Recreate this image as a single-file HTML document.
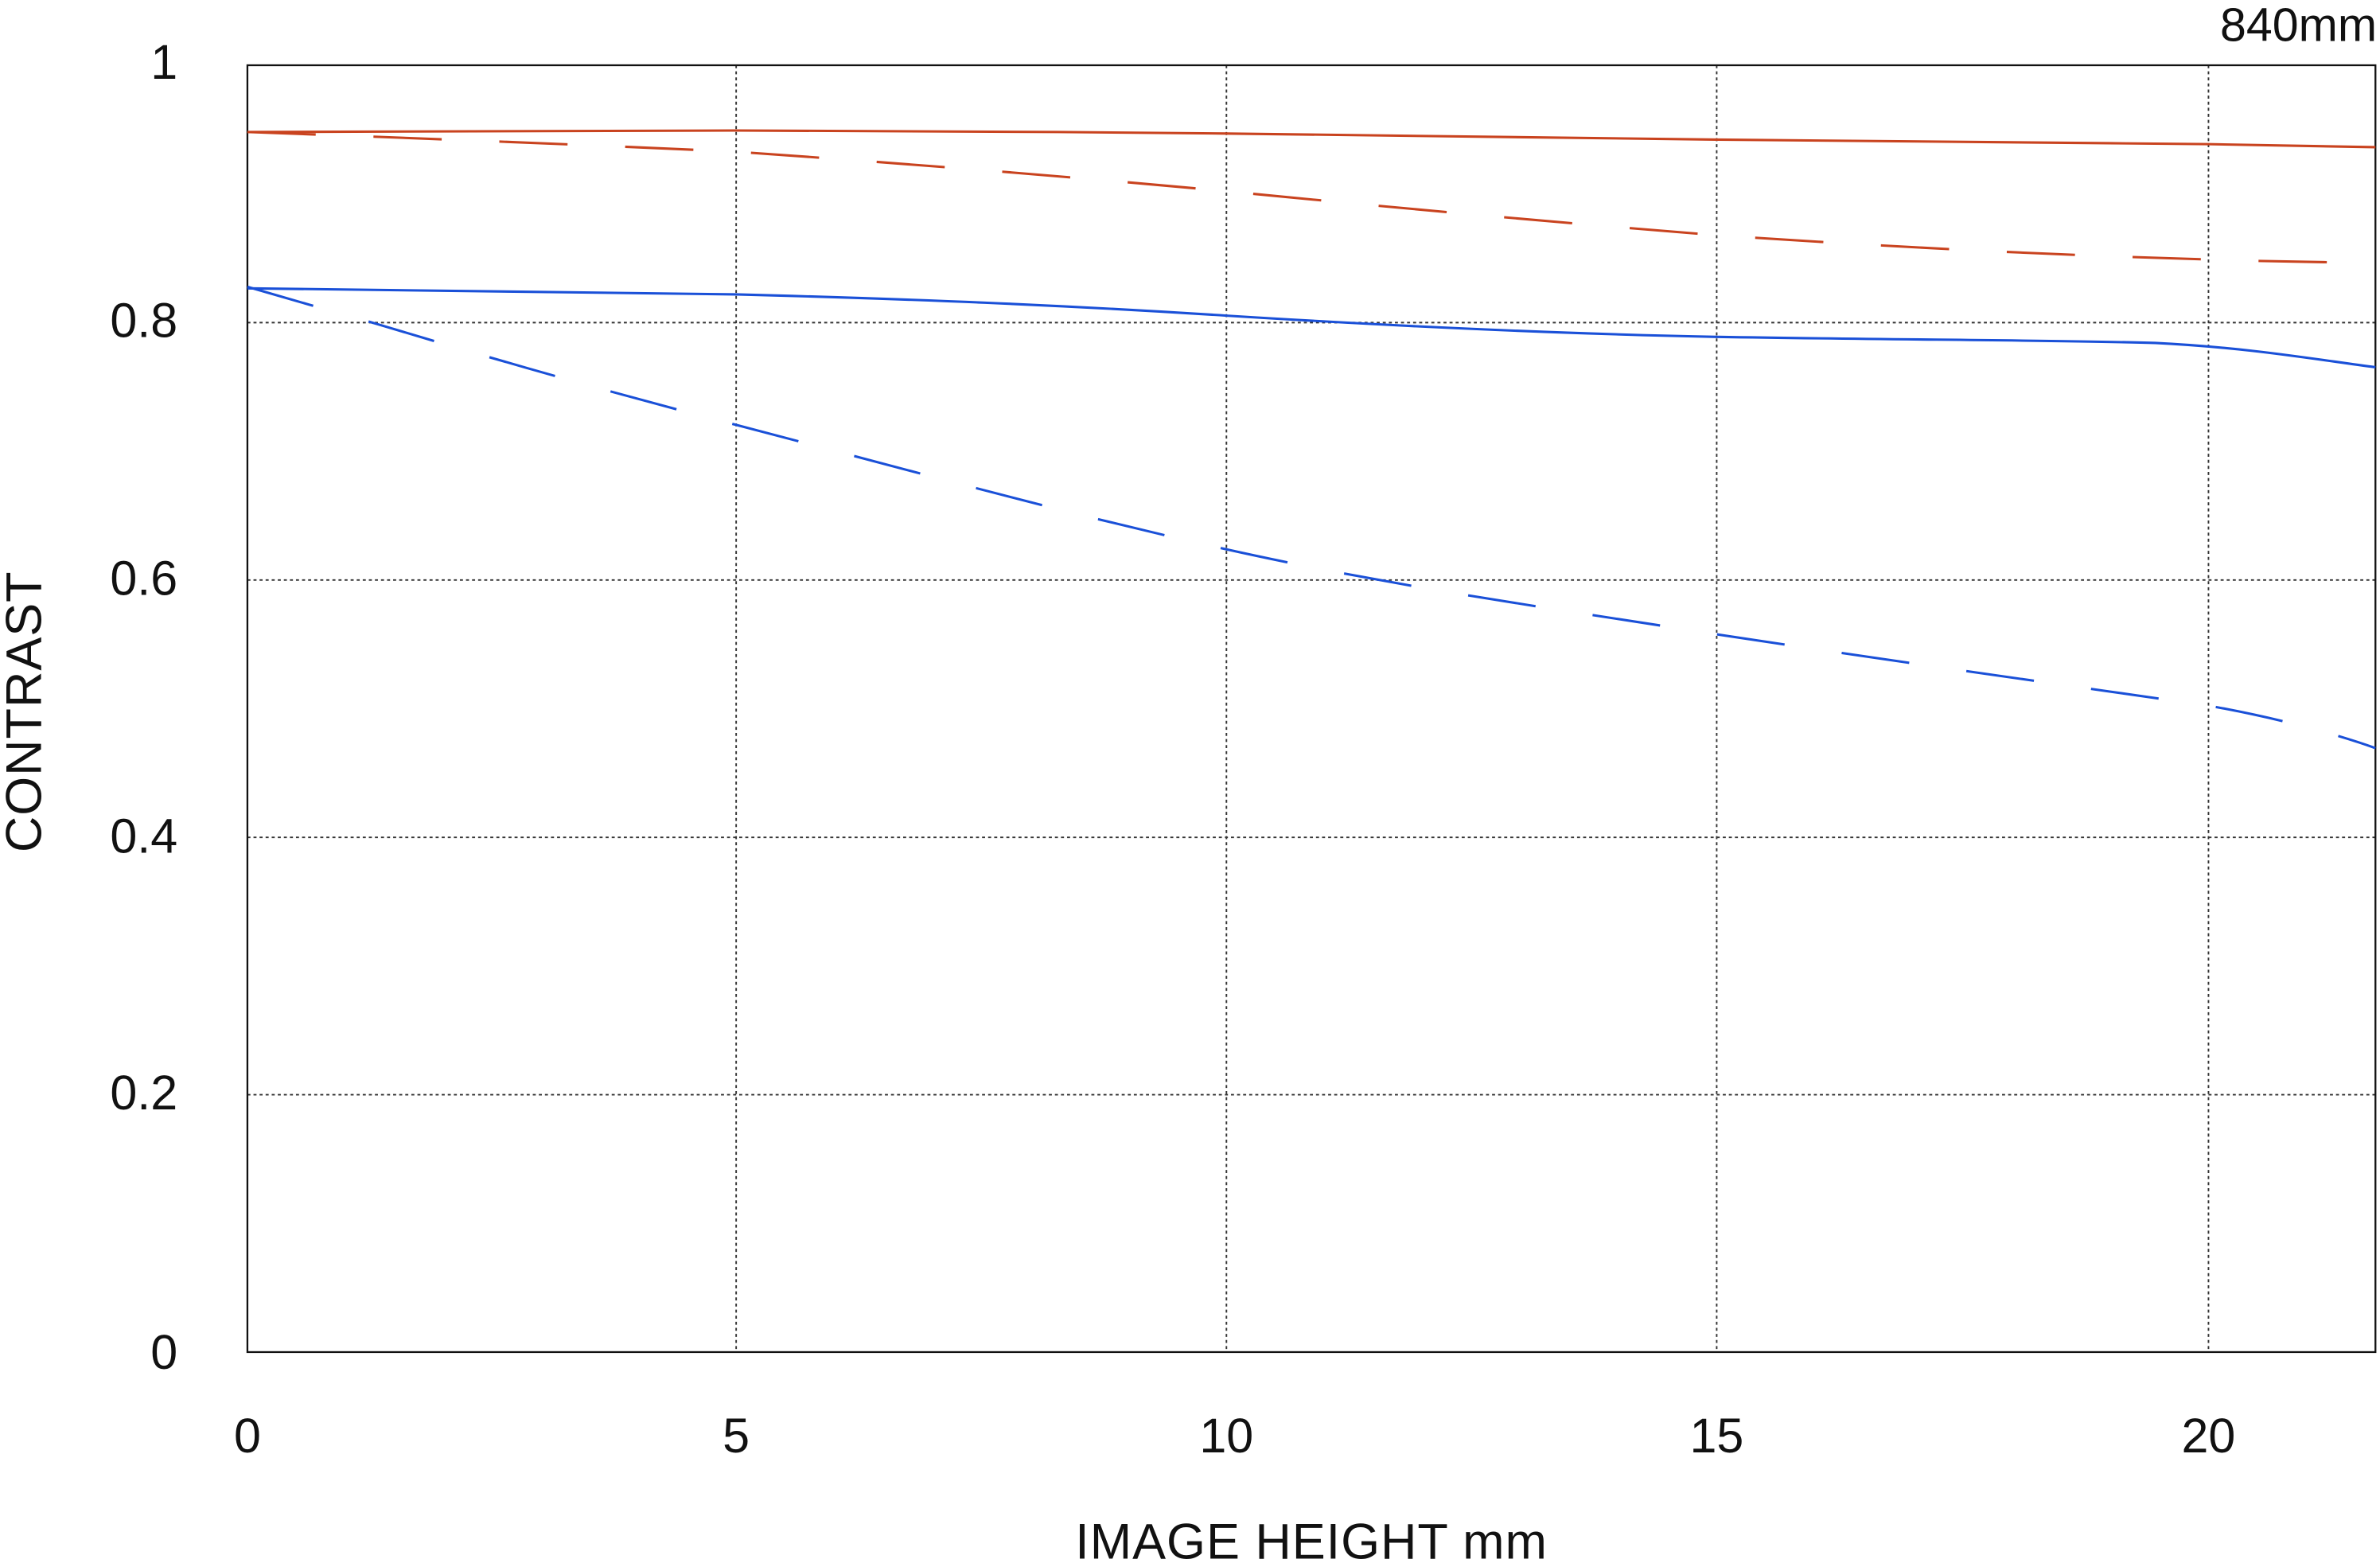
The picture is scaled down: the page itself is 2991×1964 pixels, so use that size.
<!DOCTYPE html>
<html><head><meta charset="utf-8"><style>
html,body{margin:0;padding:0;background:#fff;}
svg{display:block;}
text{font-family:"Liberation Sans",sans-serif;fill:#111;}
</style></head><body>
<svg width="2991" height="1964" viewBox="0 0 1568 1030" preserveAspectRatio="none" xmlns="http://www.w3.org/2000/svg">
<rect x="0" y="0" width="1568" height="1030" fill="#fff"/>
<g stroke="#333" stroke-width="1" stroke-dasharray="2,2" fill="none">
<line x1="485" y1="43" x2="485" y2="891"/>
<line x1="808" y1="43" x2="808" y2="891"/>
<line x1="1131" y1="43" x2="1131" y2="891"/>
<line x1="1455" y1="43" x2="1455" y2="891"/>
<line x1="163" y1="212.6" x2="1565" y2="212.6"/>
<line x1="163" y1="382.2" x2="1565" y2="382.2"/>
<line x1="163" y1="551.8" x2="1565" y2="551.8"/>
<line x1="163" y1="721.4" x2="1565" y2="721.4"/>
</g>
<rect x="163" y="43" width="1402" height="848" fill="none" stroke="#111" stroke-width="1.2"/>
<g fill="none" stroke-width="1.6">
<path d="M163,87 C300,86.5 400,86 485,86 C600,86 700,87 808,88 C920,89 1030,91 1131,92 C1250,93 1350,94 1455,95 C1500,96 1540,96.5 1565,97" stroke="#c9431f"/>
<path d="M163,87 C300,92 400,96 485,100 C600,108 700,116 808,126 C920,137 1030,147 1131,155 C1250,163 1350,168 1455,171 C1500,172.5 1540,173 1565,173" stroke="#c9431f" stroke-dasharray="45,38"/>
<path d="M163,190 C300,191 400,192 485,194 C600,197 700,201 808,208 C920,215 1030,220 1131,222 C1250,224 1350,224 1420,226 C1480,229 1520,236 1565,242" stroke="#1a50d8"/>
<path d="M163,189 C200,200 230,208 250,214 C330,238 400,258 485,280 C600,310 700,338 808,362 C920,387 1030,402 1131,418 C1250,436 1350,450 1455,465 C1500,473 1540,484 1565,493" stroke="#1a50d8" stroke-dasharray="45,38"/>
</g>
<g font-size="32" text-anchor="end">
<text x="117" y="52">1</text>
<text x="117" y="222">0.8</text>
<text x="117" y="392">0.6</text>
<text x="117" y="562">0.4</text>
<text x="117" y="731">0.2</text>
<text x="117" y="902">0</text>
</g>
<g font-size="32" text-anchor="middle">
<text x="163" y="957">0</text>
<text x="485" y="957">5</text>
<text x="808" y="957">10</text>
<text x="1131" y="957">15</text>
<text x="1455" y="957">20</text>
</g>
<text x="864" y="1027" font-size="33" text-anchor="middle" letter-spacing="0.5">IMAGE HEIGHT  mm</text>
<text transform="translate(27,469) rotate(-90)" font-size="33" text-anchor="middle" letter-spacing="0.5">CONTRAST</text>
<text x="1566" y="27" font-size="31" text-anchor="end">840mm</text>
</svg>
</body></html>
